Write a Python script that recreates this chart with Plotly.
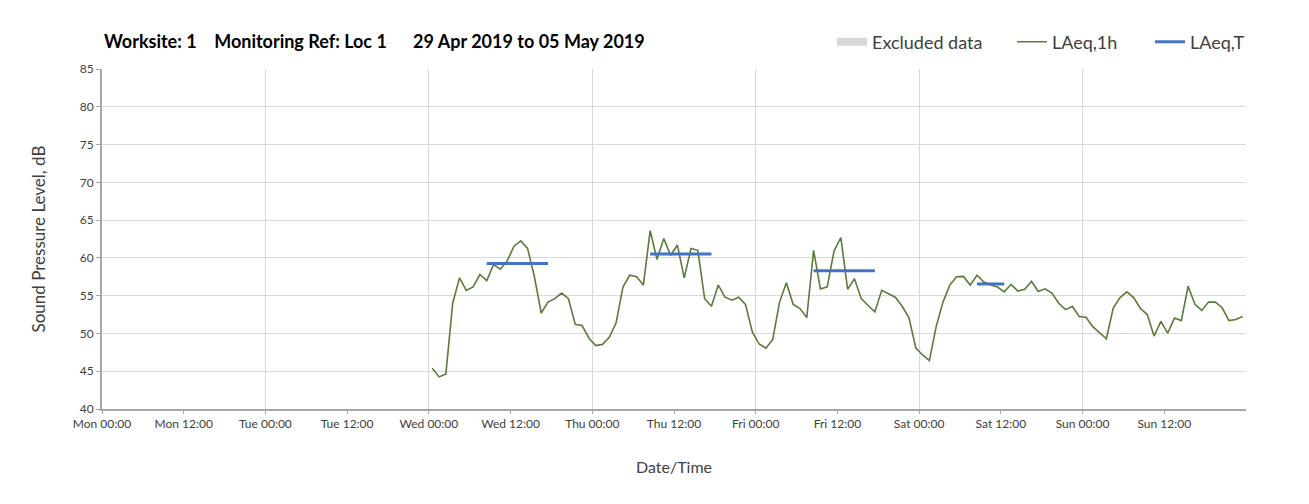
import pandas as pd
import plotly.graph_objects as go

# hourly LAeq,1h values (points at hh:30)
wed = [45.4, 44.25, 44.65, 54.0, 57.35, 55.7, 56.15, 57.8, 57.0, 59.1, 58.5, 59.6,
       61.55, 62.25, 61.25, 57.5, 52.7, 54.15, 54.6, 55.35, 54.6, 51.2, 51.05, 49.4]
thu = [48.4, 48.55, 49.5, 51.4, 56.15, 57.7, 57.5, 56.4, 63.6, 59.8, 62.55, 60.35,
       61.7, 57.35, 61.25, 61.0, 54.6, 53.6, 56.4, 54.8, 54.4, 54.8, 53.85, 50.2]
fri = [48.6, 48.05, 49.2, 54.15, 56.7, 53.85, 53.3, 52.1, 61.0, 55.9, 56.15, 60.9,
       62.7, 55.85, 57.25, 54.6, 53.7, 52.85, 55.7, 55.2, 54.8, 53.6, 52.1, 48.1]
sat = [47.15, 46.4, 50.9, 54.15, 56.4, 57.5, 57.55, 56.4, 57.7, 56.8, 56.4, 56.15,
       55.5, 56.5, 55.6, 55.85, 56.9, 55.55, 55.9, 55.35, 54.0, 53.15, 53.6, 52.25]
sun = [52.15, 50.9, 50.1, 49.3, 53.35, 54.75, 55.5, 54.75, 53.3, 52.5, 49.65, 51.6,
       50.05, 52.05, 51.7, 56.25, 53.85, 53.05, 54.15, 54.15, 53.4, 51.7, 51.85, 52.25]

laeq_1h = wed + thu + fri + sat + sun
hours = pd.date_range("2019-05-01 00:30", periods=len(laeq_1h), freq="h")

# LAeq,T periods
period_start = ["2019-05-01 08:30", "2019-05-02 08:30", "2019-05-03 08:30", "2019-05-04 08:30"]
period_end = ["2019-05-01 17:30", "2019-05-02 17:30", "2019-05-03 17:30", "2019-05-04 12:30"]
laeq_t = [59.25, 60.5, 58.3, 56.55]

# no excluded data this week
excluded_x = [None]
excluded_y = [None]

week_start = "2019-04-29 00:00"
week_end = "2019-05-06 00:00"
x_ticks = pd.date_range(week_start, periods=14, freq="12h")
y_ticks = list(range(40, 90, 5))

title_text = ("Worksite: 1&nbsp;&nbsp;&nbsp;&nbsp;Monitoring Ref: Loc 1"
              "&nbsp;&nbsp;&nbsp;&nbsp;&nbsp;&nbsp;29 Apr 2019 to 05 May 2019")

FONT = "Lato, 'Open Sans', sans-serif"
TXT = "#404040"

# the page body adds 8px around the figure; plot area given in figure pixels
OFF = 8
W, H = 1309 - OFF, 504 - OFF
L, R, T, B = 94, 63, 61, 95
PW, PH = W - L - R, H - T - B


def px_x(p):
    # screen pixel -> paper x
    return (p - OFF - L) / PW


def px_y(p):
    # screen pixel -> paper y
    return 1 + (T - (p - OFF)) / PH


seg_x, seg_y = [], []
for s, e, v in zip(period_start, period_end, laeq_t):
    seg_x += [s, e, None]
    seg_y += [v, v, None]

fig = go.Figure()
# excluded periods would be shaded; drawn as a thick grey band
fig.add_trace(
    go.Scatter(x=excluded_x, y=excluded_y, mode="lines", name="Excluded data",
               line={"color": "#d9d9d9", "width": 8}, xaxis="x2", legend="legend")
)
fig.add_trace(
    go.Scatter(x=hours, y=laeq_1h, mode="lines", name="LAeq,1h",
               line={"color": "#5b7b3b", "width": 1.6}, legend="legend2")
)
fig.add_trace(
    go.Scatter(x=seg_x, y=seg_y, mode="lines", name="LAeq,T",
               line={"color": "#4472c4", "width": 3}, xaxis="x2", legend="legend3")
)

leg = {"orientation": "h", "yanchor": "middle", "xanchor": "left",
       "y": px_y(42), "font": {"size": 18, "color": TXT},
       "bgcolor": "rgba(0,0,0,0)"}

fig.update_layout(
    width=W,
    height=H,
    margin={"l": L, "r": R, "t": T, "b": B, "autoexpand": False},
    paper_bgcolor="white",
    plot_bgcolor="white",
    font={"family": FONT, "color": TXT, "size": 12},
    showlegend=True,
    legend={**leg, "x": px_x(832)},
    legend2={**leg, "x": px_x(1012)},
    legend3={**leg, "x": px_x(1150)},
    xaxis={
        "type": "date",
        "range": [week_start, week_end],
        "tick0": week_start,
        "dtick": 24 * 3600 * 1000,
        "showgrid": True,
        "gridcolor": "#d9d9d9",
        "gridwidth": 1.3,
        "showticklabels": False,
        "ticks": "",
        "zeroline": False,
        "showline": True,
        "linecolor": "#a6a6a6",
        "linewidth": 2,
        "automargin": False,
    },
    xaxis2={
        "type": "date",
        "overlaying": "x",
        "matches": "x",
        "side": "bottom",
        "anchor": "y",
        "tickmode": "array",
        "tickvals": x_ticks,
        "tickformat": "%a %H:%M",
        "ticks": "outside",
        "ticklen": 4,
        "tickcolor": "#a6a6a6",
        "showgrid": False,
        "automargin": False,
        "tickfont": {"size": 12, "color": TXT},
        "title": {"text": "Date/Time", "font": {"size": 16, "color": TXT}, "standoff": 31},
    },
    yaxis={
        "range": [40, 85],
        "tickvals": y_ticks,
        "showgrid": True,
        "gridcolor": "#d9d9d9",
        "gridwidth": 1.3,
        "zeroline": False,
        "showline": True,
        "linecolor": "#a6a6a6",
        "linewidth": 2,
        "ticks": "outside",
        "ticklen": 4,
        "tickcolor": "#a6a6a6",
        "automargin": False,
        "tickfont": {"size": 12, "color": TXT},
        "title": {"text": "Sound Pressure Level, dB", "font": {"size": 17, "color": TXT},
                  "standoff": 30},
    },
)

fig.add_annotation(
    text=f"<b>{title_text}</b>",
    xref="paper", yref="paper", x=px_x(102), y=px_y(41),
    xanchor="left", yanchor="middle", showarrow=False,
    font={"size": 18, "color": "#000000", "family": FONT},
)

# outer chart border (right edge only falls inside the figure)
fig.add_shape(
    type="rect", xref="paper", yref="paper",
    x0=px_x(3), x1=px_x(1305), y0=px_y(560), y1=px_y(5),
    line={"color": "#c8c8c8", "width": 1.5}, fillcolor="rgba(0,0,0,0)",
    layer="below",
)

fig.write_html("out.html")
